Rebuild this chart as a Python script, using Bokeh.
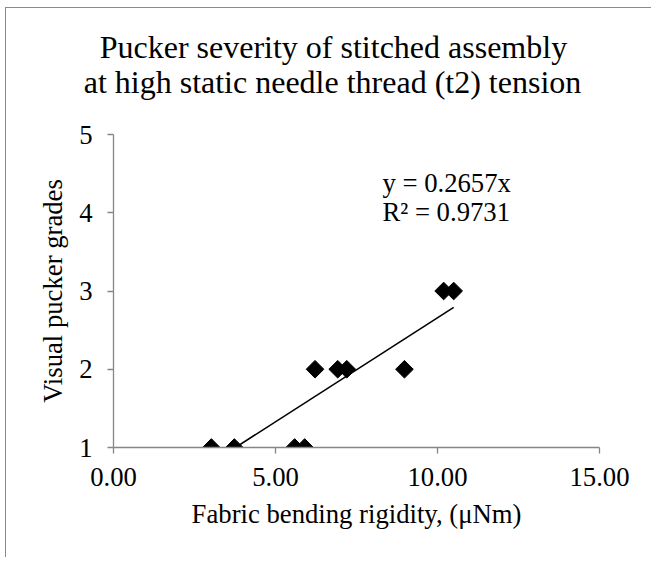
import math
from bokeh.plotting import figure
from bokeh.models import Range1d, Label, NumeralTickFormatter, FixedTicker
from bokeh.embed import file_html
from bokeh.resources import INLINE

# Data
rigidity = [3.02, 3.73, 5.59, 5.90, 6.22, 6.92, 7.20, 8.98, 10.19, 10.50]
grades = [1, 1, 1, 1, 2, 2, 2, 2, 3, 3]
slope = 0.2657
r2 = 0.9731
x_ticks = [0, 5, 10, 15]
y_ticks = [1, 2, 3, 4, 5]
title_lines = ["Pucker severity of stitched assembly",
               "at high static needle thread (t2) tension"]
x_title = "Fabric bending rigidity, (\u03bcNm)"
y_title = "Visual pucker grades"

FONT = "Liberation Serif"
GRAY = "#868686"
NB = "\u00a0"

W, H = 646, 550
p = figure(width=W, height=H, output_backend="svg", toolbar_location=None,
           x_range=Range1d(0, 15), y_range=Range1d(1, 5),
           min_border_left=107, min_border_right=53,
           min_border_top=126, min_border_bottom=111,
           styles={"border-left": "1px solid #8a8a8a", "border-top": "1px solid #8a8a8a",
                   "margin-left": "5px", "margin-top": "7px"})
p.outline_line_color = None
p.grid.visible = False
p.background_fill_color = "white"
p.border_fill_color = "white"

# multi-line titles are left-justified: pad line 1 to centre it over line 2,
# pad line 2 on the right to move the block left of the frame centre, and add
# a blank third line so the two visible lines sit higher above the frame
p.title.text = (NB * 2 + title_lines[0] + "\n" + title_lines[1] + NB * 6 + "\n" + NB)
p.title.align = "center"
p.title.text_font = FONT
p.title.text_font_size = "32px"
p.title.text_font_style = "normal"
p.title.text_color = "black"
p.title.text_line_height = 0.96
p.title.standoff = 0

for ax in (p.xaxis[0], p.yaxis[0]):
    ax.axis_line_color = GRAY
    ax.axis_line_width = 1.3
    ax.major_tick_line_color = GRAY
    ax.major_tick_line_width = 1.3
    ax.major_tick_out = 6
    ax.major_tick_in = 0
    ax.minor_tick_line_color = None
    ax.major_label_text_font = FONT
    ax.major_label_text_font_size = "26.7px"
    ax.major_label_text_color = "black"
    ax.axis_label_text_font = FONT
    ax.axis_label_text_font_size = "26.7px"
    ax.axis_label_text_font_style = "normal"
    ax.axis_label_text_color = "black"

p.xaxis[0].ticker = FixedTicker(ticks=x_ticks)
p.xaxis[0].formatter = NumeralTickFormatter(format="0.00")
p.xaxis[0].major_label_standoff = 14
p.xaxis[0].axis_label = x_title
p.xaxis[0].axis_label_standoff = 10
p.yaxis[0].ticker = FixedTicker(ticks=y_ticks)
p.yaxis[0].major_label_standoff = 15
p.yaxis[0].axis_label = y_title
p.yaxis[0].axis_label_standoff = 8

# trendline (through origin), spanning the data's x range
x0, x1 = min(rigidity), max(rigidity)
p.line([x0, x1], [slope * x0, slope * x1], line_color="black", line_width=1.6)

p.scatter(rigidity, grades, marker="square", angle=math.pi / 4, size=12.5,
          fill_color="black", line_color="black")

for yy, t in ((4.385, "y = %.4fx" % slope), (4.014, "R\u00b2 = %.4f" % r2)):
    p.add_layout(Label(x=8.30, y=yy, text=t, text_font=FONT, text_font_size="26.7px",
                       text_align="left", text_baseline="alphabetic", text_color="black"))

open("out.html", "w").write(file_html(p, INLINE))
